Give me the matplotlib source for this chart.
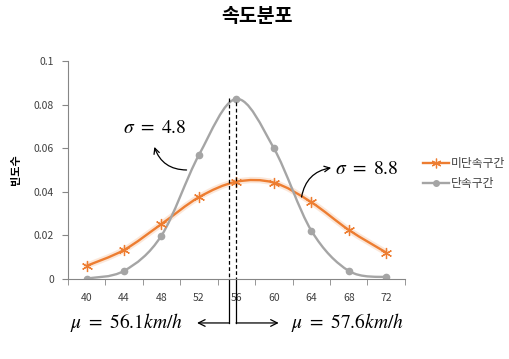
import matplotlib.pyplot as plt
import numpy as np
from matplotlib.path import Path
from matplotlib.patches import PathPatch

plt.rcParams['font.family'] = ['Noto Sans CJK KR', 'DejaVu Sans']
plt.rcParams['mathtext.fontset'] = 'stix'

speeds = ['40', '44', '48', '52', '56', '60', '64', '68', '72']
free_flow = [0.0060, 0.0133, 0.0252, 0.0375, 0.0446, 0.0442, 0.0352, 0.0225, 0.0121]
enforced = [0.0002, 0.0037, 0.0199, 0.0569, 0.0826, 0.0600, 0.0222, 0.0037, 0.0008]
series_names = ['미단속구간', '단속구간']

ORANGE = '#ED7D31'
GRAY = '#A5A5A5'


def smooth_path(xs, ys):
    # Excel-style smoothed line: cubic bezier segments through every point
    pts = np.column_stack([xs, ys])
    n = len(pts)
    verts = [pts[0]]
    codes = [Path.MOVETO]
    for i in range(n - 1):
        p0 = pts[max(i - 1, 0)]
        p1 = pts[i]
        p2 = pts[i + 1]
        p3 = pts[min(i + 2, n - 1)]
        c1 = p1 + (p2 - p0) / 6.0
        c2 = p2 - (p3 - p1) / 6.0
        verts += [c1, c2, p2]
        codes += [Path.CURVE4] * 3
    return Path(verts, codes)


fig = plt.figure(figsize=(5.1, 3.59), dpi=100)
ax = fig.add_axes([0.133, 0.223, 0.661, 0.607])

x = np.arange(len(speeds))

# orange series with a soft glow underneath
ax.add_patch(PathPatch(smooth_path(x, free_flow), fill=False, edgecolor=ORANGE,
                       lw=4.5, alpha=0.18, capstyle='round'))
ax.add_patch(PathPatch(smooth_path(x, free_flow), fill=False, edgecolor=ORANGE, lw=1.7))
ax.plot(x, free_flow, ls='none', marker=(6, 2, 0), ms=8, mec=ORANGE, mew=0.9)

ax.add_patch(PathPatch(smooth_path(x, enforced), fill=False, edgecolor=GRAY, lw=1.7))
ax.plot(x, enforced, ls='none', marker='o', ms=4.5, color=GRAY)

ax.set_xlim(-0.5, len(speeds) - 0.5)
ax.set_ylim(0, 0.1)
ax.set_yticks([0, 0.02, 0.04, 0.06, 0.08, 0.1])
ax.set_yticklabels(['0', '0.02', '0.04', '0.06', '0.08', '0.1'])
ax.set_xticks(x)
ax.set_xticklabels(speeds)
ax.set_xticks(np.arange(len(speeds) + 1) - 0.5, minor=True)
ax.tick_params(axis='x', which='major', length=0, pad=10, labelsize=7.5, labelcolor='#404040')
ax.tick_params(axis='x', which='minor', length=4, direction='out', color='#868686')
ax.tick_params(axis='y', length=4, direction='out', color='#868686',
               labelsize=7.5, labelcolor='#404040', pad=6)
for side in ['top', 'right']:
    ax.spines[side].set_visible(False)
for side in ['left', 'bottom']:
    ax.spines[side].set_color('#868686')
    ax.spines[side].set_linewidth(0.8)

# mean markers: dashed above the axis, solid leaders below
mean_left, mean_right = 3.81, 3.99
label_y = -0.0202
ax.plot([mean_left, mean_left], [0.083, 0], color='black', ls='--', lw=0.9, dashes=(3, 2))
ax.plot([mean_right, mean_right], [0.081, 0], color='black', ls='--', lw=0.9, dashes=(3, 2))
ax.plot([mean_left, mean_left], [0, label_y], color='black', lw=0.9, clip_on=False)
ax.plot([mean_right, mean_right], [0, label_y], color='black', lw=0.9, clip_on=False)
ax.annotate('', xy=(2.95, label_y), xytext=(mean_left, label_y),
            arrowprops=dict(arrowstyle='->', lw=0.9, color='black',
                            shrinkA=0, shrinkB=0, mutation_scale=12),
            annotation_clip=False)
ax.annotate('', xy=(5.13, label_y), xytext=(mean_right, label_y),
            arrowprops=dict(arrowstyle='->', lw=0.9, color='black',
                            shrinkA=0, shrinkB=0, mutation_scale=12),
            annotation_clip=False)
ax.text(2.56, label_y, r'$\mu\ =\ 56.1km/h$', ha='right', va='center', fontsize=14,
        clip_on=False)
ax.text(5.45, label_y, r'$\mu\ =\ 57.6km/h$', ha='left', va='center', fontsize=14,
        clip_on=False)

# standard deviation callouts
ax.text(0.97, 0.0693, r'$\sigma\ =\ 4.8$', ha='left', va='center', fontsize=14)
ax.annotate('', xy=(1.81, 0.0606), xytext=(2.67, 0.050),
            arrowprops=dict(arrowstyle='->', lw=0.9, color='black', shrinkA=0, shrinkB=0,
                            connectionstyle='arc3,rad=-0.35', mutation_scale=10))
ax.text(6.64, 0.0509, r'$\sigma\ =\ 8.8$', ha='left', va='center', fontsize=14)
ax.annotate('', xy=(6.53, 0.051), xytext=(5.74, 0.0376),
            arrowprops=dict(arrowstyle='->', lw=0.9, color='black', shrinkA=0, shrinkB=0,
                            connectionstyle='arc3,rad=-0.35', mutation_scale=10))

handles = [
    plt.Line2D([], [], color=ORANGE, lw=1.7, marker=(6, 2, 0), ms=7, mew=0.9),
    plt.Line2D([], [], color=GRAY, lw=1.7, marker='o', ms=4),
]
fig.legend(handles, series_names, loc='center left', bbox_to_anchor=(423 / 510, 1 - 173.5 / 359),
           frameon=False, fontsize=8.5, handlelength=2.2, handletextpad=0.2,
           borderpad=0, borderaxespad=0, labelspacing=0.6, labelcolor='#404040')

fig.text(257.5 / 510, 1 - 16 / 359, '속도분포', ha='center', va='center',
         fontsize=14, fontweight='bold')
fig.text(16 / 510, 1 - 170 / 359, '빈도수', ha='center', va='center', rotation=90,
         fontsize=8, fontweight='bold')

fig.savefig('out.png', dpi=100, facecolor='white')
